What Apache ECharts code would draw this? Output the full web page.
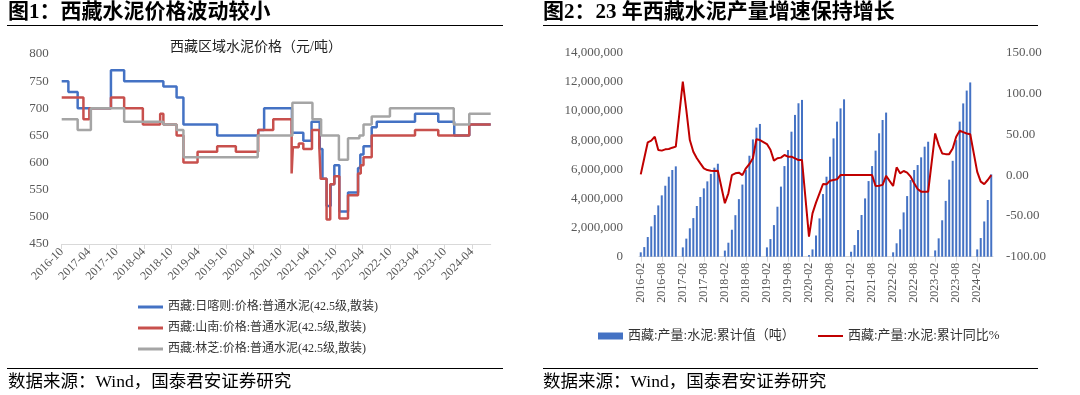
<!DOCTYPE html>
<html><head><meta charset="utf-8">
<script src="https://cdn.jsdelivr.net/npm/echarts@6/dist/echarts.min.js"></script>
<style>html,body{margin:0;padding:0;background:#fff}#c{width:1080px;height:395px}</style>
</head><body><div id="c"></div>
<script>
// ---------- Figure 1 : price step series (change points: date, price) ----------
const priceNames = ['西藏:日喀则:价格:普通水泥(42.5级,散装)', '西藏:山南:价格:普通水泥(42.5级,散装)', '西藏:林芝:价格:普通水泥(42.5级,散装)'];
const priceTickLabels = ['2016-10','2017-04','2017-10','2018-04','2018-10','2019-04','2019-10','2020-04','2020-10','2021-04','2021-10','2022-04','2022-10','2023-04','2023-10','2024-04'];
const shigatse = [['2016-10-01',750],['2016-11-15',730],['2017-01-16',700],['2017-08-25',770],['2017-11-22',750],['2018-08-10',740],['2018-11-07',720],['2018-12-22',670],['2019-08-04',650],['2020-05-04',660],['2020-06-13',700],['2020-12-16',655],['2021-03-01',640],['2021-04-25',675],['2021-06-19',625],['2021-07-07',570],['2021-08-04',520],['2021-09-01',560],['2021-09-25',595],['2021-10-28',510],['2021-12-25',545],['2022-03-01',590],['2022-03-16',615],['2022-04-07',630],['2022-06-01',665],['2022-07-04',675],['2023-03-16',690],['2023-08-19',675],['2023-12-04',650],['2024-03-13',670],['2024-08-04',670]];
const shannan = [['2016-10-01',720],['2017-02-24',680],['2017-04-03',700],['2017-08-25',720],['2017-11-22',700],['2018-03-25',670],['2018-07-19',690],['2018-08-10',670],['2018-11-07',650],['2018-12-22',600],['2019-03-25',620],['2019-08-04',630],['2019-12-07',620],['2020-05-04',660],['2020-08-13',680],['2020-12-14',580],['2020-12-22',628],['2021-02-01',635],['2021-03-01',625],['2021-04-28',660],['2021-06-16',630],['2021-06-25',570],['2021-08-04',495],['2021-08-28',560],['2021-09-25',575],['2021-10-28',497],['2021-12-25',540],['2022-03-01',580],['2022-03-19',595],['2022-04-07',610],['2022-06-01',650],['2023-03-16',660],['2023-08-19',650],['2024-03-13',670],['2024-08-04',670]];
const nyingchi = [['2016-10-01',680],['2017-01-16',660],['2017-04-13',700],['2017-11-22',675],['2018-08-10',670],['2018-11-07',660],['2018-12-22',610],['2020-05-01',650],['2020-12-19',710],['2021-05-01',680],['2021-06-28',650],['2021-10-25',605],['2021-12-25',645],['2022-03-10',650],['2022-04-07',670],['2022-06-01',685],['2022-10-01',700],['2023-12-01',670],['2024-03-13',690],['2024-08-04',690]];

// ---------- Figure 2 : cumulative output (tons) Feb..Dec per year, and cumulative YoY % ----------
const barName = '西藏:产量:水泥:累计值（吨）';
const lineName = '西藏:产量:水泥:累计同比%';
const years = [2016,2017,2018,2019,2020,2021,2022,2023,2024];
const prod2016 = [300000,660000,1350000,2080000,2860000,3520000,4210000,4870000,5490000,5950000,6200000];
const prod2017 = [640000,1240000,1950000,2650000,3480000,4100000,4690000,5170000,5680000,6110000,6380000];
const prod2018 = [420000,960000,1850000,2850000,3950000,4950000,5950000,6930000,8050000,8860000,9110000];
const prod2019 = [640000,1210000,2170000,3430000,4810000,6220000,7320000,8580000,9730000,10530000,10760000];
const prod2020 = [110000,500000,1460000,2630000,4300000,5490000,6860000,8120000,9270000,10180000,10800000];
const prod2021 = [340000,800000,1830000,2860000,4000000,5190000,6220000,7280000,8470000,9380000,9890000];
const prod2022 = [300000,920000,1880000,3040000,4160000,5260000,5950000,6290000,6820000,7550000,7890000];
const prod2023 = [430000,1260000,2500000,3830000,5290000,6580000,8000000,9270000,10520000,11400000,11960000];
const prod2024 = [500000,1280000,2420000,3890000,5650000];
const yoy2016 = [0.9,20.6,40.2,42.2,47.1,30.8,30.0,31.6,32.0,33.6,34.9];
const yoy2017 = [114.5,79.8,43.0,28.7,20.6,14.4,8.3,6.2,5.4,5.0,5.4];
const yoy2018 = [-34.4,-22.3,0,2.2,3.0,0,8.3,13.6,20.6,43.9,43.0];
const yoy2019 = [38.0,31.0,17.7,20.6,21.4,24.6,22.6,22.6,20.6,18.5,18.5];
const yoy2020 = [-75.4,-46.9,-33.8,-22.3,-10.9,-11.3,-6.8,-6.0,-5.2,0,0];
const yoy2021 = [0,0,0,0,0,0,0,-13.4,-13.0,-12.0,-1.0];
const yoy2022 = [-13.4,9.5,2.2,5.0,3.0,-1.9,-10.0,-17.0,-20.3,-20.3,-20.3];
const yoy2023 = [51.0,37.0,26.5,25.7,25.7,32.7,47.0,54.3,52.7,51.0,50.0];
const yoy2024 = [4.0,-8.0,-11.0,-6.0,0];

const prodByYear = [prod2016,prod2017,prod2018,prod2019,prod2020,prod2021,prod2022,prod2023,prod2024];
const yoyByYear = [yoy2016,yoy2017,yoy2018,yoy2019,yoy2020,yoy2021,yoy2022,yoy2023,yoy2024];

// build monthly categories (January has no data)
const cats = [], barData = [], lineData = [];
years.forEach((y, yi) => {
  const p = prodByYear[yi], r = yoyByYear[yi];
  for (let m = 1; m <= 12; m++) {
    if (y === 2016 && m === 1) continue;
    if (m >= 2 && m - 2 >= p.length) break;
    cats.push(y + '-' + String(m).padStart(2, '0'));
    if (m === 1) { barData.push(null); lineData.push(null); }
    else { barData.push(p[m - 2]); lineData.push(r[m - 2]); }
  }
});

function monthOffset(s) {
  const [y, m, d] = s.split('-').map(Number);
  return (y - 2016) * 12 + (m - 10) + (d - 1) / 30;
}
const toXY = arr => arr.map(([d, v]) => [monthOffset(d), v]);

const font = "'Liberation Serif','Noto Sans CJK SC',serif";
const labelColor = '#595959';
const axisGrey = '#D9D9D9';

const chart = echarts.init(document.getElementById('c'), null, {renderer: 'canvas'});
chart.setOption({
  animation: false,
  backgroundColor: '#fff',
  graphic: [
    {type: 'text', x: 8, y: 13, style: {text: '图1：西藏水泥价格波动较小', font: 'bold 21px ' + font, fill: '#000', verticalAlign: 'middle'}},
    {type: 'text', x: 543, y: 13, style: {text: '图2：23 年西藏水泥产量增速保持增长', font: 'bold 21px ' + font, fill: '#000', verticalAlign: 'middle'}},
    {type: 'line', shape: {x1: 7, y1: 25.5, x2: 503, y2: 25.5}, style: {stroke: '#000', lineWidth: 1}},
    {type: 'line', shape: {x1: 543, y1: 25.5, x2: 1038, y2: 25.5}, style: {stroke: '#000', lineWidth: 1}},
    {type: 'text', x: 256, y: 47, style: {text: '西藏区域水泥价格（元/吨）', font: '14px ' + font, fill: '#222', align: 'center', verticalAlign: 'middle'}},
    {type: 'line', shape: {x1: 7, y1: 368.5, x2: 503, y2: 368.5}, style: {stroke: '#000', lineWidth: 1}},
    {type: 'line', shape: {x1: 543, y1: 368.5, x2: 1038, y2: 368.5}, style: {stroke: '#000', lineWidth: 1}},
    {type: 'text', x: 8, y: 382, style: {text: '数据来源：Wind，国泰君安证券研究', font: '17.5px ' + font, fill: '#000', verticalAlign: 'middle'}},
    {type: 'text', x: 543, y: 382, style: {text: '数据来源：Wind，国泰君安证券研究', font: '17.5px ' + font, fill: '#000', verticalAlign: 'middle'}}
  ],
  legend: [
    {data: priceNames, orient: 'vertical', left: 138, top: 300.5, padding: 0, itemGap: 8, icon: 'rect', itemWidth: 25, itemHeight: 3,
     textStyle: {fontSize: 12, lineHeight: 13, color: '#333', fontFamily: font}},
    {data: [barName], left: 598, top: 329.5, padding: 0, icon: 'rect', itemWidth: 25, itemHeight: 7,
     textStyle: {fontSize: 13, lineHeight: 13, color: '#333', fontFamily: font}},
    {data: [lineName], left: 818, top: 329.5, padding: 0, icon: 'rect', itemWidth: 25, itemHeight: 2,
     textStyle: {fontSize: 13, lineHeight: 13, color: '#333', fontFamily: font}}
  ],
  grid: [
    {left: 61.7, right: 589.3, top: 54, bottom: 151},
    {left: 639, right: 87, top: 52.7, bottom: 138.3}
  ],
  xAxis: [
    {type: 'value', gridIndex: 0, min: 0, max: 94.1, interval: 6, splitLine: {show: false},
     axisLine: {show: true, onZero: false, lineStyle: {color: axisGrey}},
     axisTick: {show: true, lineStyle: {color: axisGrey}},
     axisLabel: {showMaxLabel: false, rotate: 45, fontSize: 12, color: labelColor, fontFamily: font, margin: 6,
       formatter: v => { const i = Math.round(v / 6); return Math.abs(v - i * 6) < 1e-6 ? (priceTickLabels[i] || '') : ''; }}},
    {type: 'category', gridIndex: 1, data: cats, boundaryGap: true,
     axisLine: {show: true, lineStyle: {color: axisGrey}},
     axisTick: {show: true, interval: 5, alignWithLabel: true, lineStyle: {color: axisGrey}},
     axisLabel: {interval: 5, rotate: 90, fontSize: 12, color: labelColor, fontFamily: font, margin: 6}}
  ],
  yAxis: [
    {type: 'value', gridIndex: 0, min: 450, max: 800, interval: 50, splitLine: {show: false},
     axisLine: {show: false}, axisTick: {show: false},
     axisLabel: {fontSize: 13, color: labelColor, fontFamily: font, margin: 13}},
    {type: 'value', gridIndex: 1, min: 0, max: 14000000, interval: 2000000, splitLine: {show: false},
     axisLine: {show: false}, axisTick: {show: false},
     axisLabel: {fontSize: 13, color: labelColor, fontFamily: font, margin: 16,
       formatter: v => v.toLocaleString('en-US')}},
    {type: 'value', gridIndex: 1, position: 'right', min: -100, max: 150, interval: 50, splitLine: {show: false},
     axisLine: {show: false}, axisTick: {show: false},
     axisLabel: {fontSize: 13, color: labelColor, fontFamily: font, margin: 13,
       formatter: v => v.toFixed(2)}}
  ],
  series: [
    {name: priceNames[0], type: 'line', xAxisIndex: 0, yAxisIndex: 0, step: 'end', symbol: 'none',
     data: toXY(shigatse), itemStyle: {color: '#4472C4'}, lineStyle: {color: '#4472C4', width: 2.5}},
    {name: priceNames[1], type: 'line', xAxisIndex: 0, yAxisIndex: 0, step: 'end', symbol: 'none',
     data: toXY(shannan), itemStyle: {color: '#C8504D'}, lineStyle: {color: '#C8504D', width: 2.5}},
    {name: priceNames[2], type: 'line', xAxisIndex: 0, yAxisIndex: 0, step: 'end', symbol: 'none',
     data: toXY(nyingchi), itemStyle: {color: '#A5A5A5'}, lineStyle: {color: '#A5A5A5', width: 2.5}},
    {name: barName, type: 'bar', xAxisIndex: 1, yAxisIndex: 1, data: barData, barWidth: 2,
     itemStyle: {color: '#4472C4'}},
    {name: lineName, type: 'line', xAxisIndex: 1, yAxisIndex: 2, data: lineData, connectNulls: true, symbol: 'none',
     itemStyle: {color: '#C00000'}, lineStyle: {color: '#C00000', width: 2}}
  ]
});
</script>
</body></html>
